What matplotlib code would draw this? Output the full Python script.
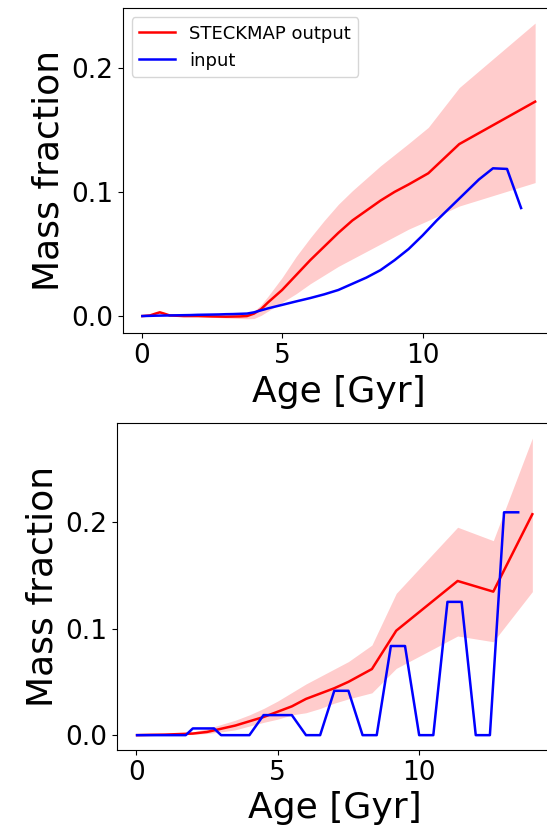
import numpy as np
import matplotlib.pyplot as plt

# input SFH sampled on the SSP age grid [Gyr]
age_in = [0.03, 0.5, 1.0, 1.25, 1.5, 1.75, 2.0, 2.25, 2.5, 2.75, 3.0, 3.25, 3.5, 3.75,
          4.0, 4.5, 5.0, 5.5, 6.0, 6.5, 7.0, 7.5, 8.0, 8.5, 9.0, 9.5, 10.0, 10.5,
          11.0, 11.5, 12.0, 12.5, 13.0, 13.5]

# top panel: smooth input
in_smooth = [0.0, 0.0003, 0.0005, 0.0006, 0.0007, 0.0008, 0.001, 0.0011, 0.0012, 0.0013,
             0.0015, 0.0016, 0.0018, 0.002, 0.003, 0.0062, 0.009, 0.0118, 0.0145, 0.0175,
             0.021, 0.026, 0.031, 0.037, 0.045, 0.054, 0.065, 0.077, 0.088, 0.099,
             0.110, 0.119, 0.1185, 0.087]

# bottom panel: bursty input
in_burst = [0.0, 0.0, 0.0, 0.0, 0.0, 0.0, 0.0063, 0.0063, 0.0063, 0.0063, 0.0, 0.0, 0.0, 0.0,
            0.0, 0.0188, 0.0188, 0.0188, 0.0, 0.0, 0.0416, 0.0416, 0.0, 0.0, 0.0836, 0.0836,
            0.0, 0.0, 0.125, 0.125, 0.0, 0.0, 0.209, 0.209]

# STECKMAP recovery, top panel
age_out1 = [0.03, 0.3, 0.5, 0.65, 0.8, 1.0, 1.5, 2.0, 2.5, 3.0, 3.5, 3.75, 4.0, 4.25, 4.5,
            5.0, 5.5, 6.0, 6.5, 7.0, 7.5, 8.0, 8.5, 9.0, 9.5, 10.2, 11.3, 14.0]
out1 = [0.0, 0.0005, 0.002, 0.003, 0.002, 0.0005, 0.0, 0.0, -0.0003, -0.0005, -0.0003, 0.0,
        0.002, 0.0055, 0.011, 0.021, 0.033, 0.045, 0.056, 0.067, 0.077, 0.085, 0.093,
        0.100, 0.106, 0.115, 0.1385, 0.1727]
out1_hi = [0.0, 0.0008, 0.0025, 0.0035, 0.0025, 0.001, 0.0005, 0.0005, 0.0005, 0.0005, 0.001,
           0.002, 0.004, 0.009, 0.016, 0.031, 0.048, 0.063, 0.077, 0.090, 0.101, 0.111,
           0.121, 0.130, 0.139, 0.152, 0.184, 0.236]
out1_lo = [0.0, 0.0002, 0.0015, 0.0025, 0.0015, 0.0, -0.0005, -0.0005, -0.001, -0.0015,
           -0.002, -0.0022, -0.002, 0.0005, 0.004, 0.011, 0.018, 0.026, 0.033, 0.040, 0.046,
           0.052, 0.058, 0.064, 0.070, 0.077, 0.0886, 0.1075]

# STECKMAP recovery, bottom panel
age_out2 = [0.03, 0.5, 1.0, 1.5, 2.0, 2.5, 3.0, 3.5, 4.0, 4.5, 5.0, 5.5, 6.0, 6.5, 7.0, 7.5,
            8.33, 9.19, 11.36, 12.62, 14.0]
out2 = [0.0, 0.0003, 0.0005, 0.001, 0.0015, 0.003, 0.006, 0.009, 0.013, 0.017, 0.022, 0.027,
        0.034, 0.039, 0.044, 0.050, 0.062, 0.098, 0.1446, 0.1346, 0.2072]
out2_hi = [0.0, 0.0005, 0.001, 0.002, 0.003, 0.006, 0.010, 0.014, 0.019, 0.025, 0.032, 0.040,
           0.048, 0.055, 0.062, 0.069, 0.0845, 0.133, 0.195, 0.1824, 0.2786]
out2_lo = [0.0, 0.0002, 0.0003, 0.0005, 0.0008, 0.0015, 0.003, 0.005, 0.0085, 0.012, 0.015,
           0.019, 0.021, 0.025, 0.030, 0.034, 0.0397, 0.0626, 0.093, 0.0876, 0.1346]

fig = plt.figure(figsize=(5.47, 8.36), dpi=100)
ax1 = fig.add_axes([0.2243, 0.6013, 0.79, 0.3888])
ax2 = fig.add_axes([0.2144, 0.1029, 0.795, 0.3908])

panels = [(ax1, age_out1, out1, out1_lo, out1_hi, in_smooth),
          (ax2, age_out2, out2, out2_lo, out2_hi, in_burst)]
for ax, ages, out, lo, hi, inp in panels:
    ax.plot(ages, out, color='r', lw=1.8, label="STECKMAP output")
    ax.fill_between(ages, lo, hi, color='r', alpha=0.2, lw=0)
    ax.plot(age_in, inp, color='b', lw=1.8, label="input")
    ax.set_xlabel("Age [Gyr]", fontsize=26)
    ax.set_ylabel("Mass fraction", fontsize=26)
    ax.tick_params(labelsize=19)
    ax.set_xticks([0, 5, 10])
    ax.set_yticks([0.0, 0.1, 0.2])
    ax.set_xlim(-0.67, 14.7)

ax1.set_ylim(-0.0139, 0.2479)
ax2.set_ylim(-0.0139, 0.2925)
ax1.legend(loc='upper left', fontsize=13)
fig.savefig("out.png", dpi=100)
